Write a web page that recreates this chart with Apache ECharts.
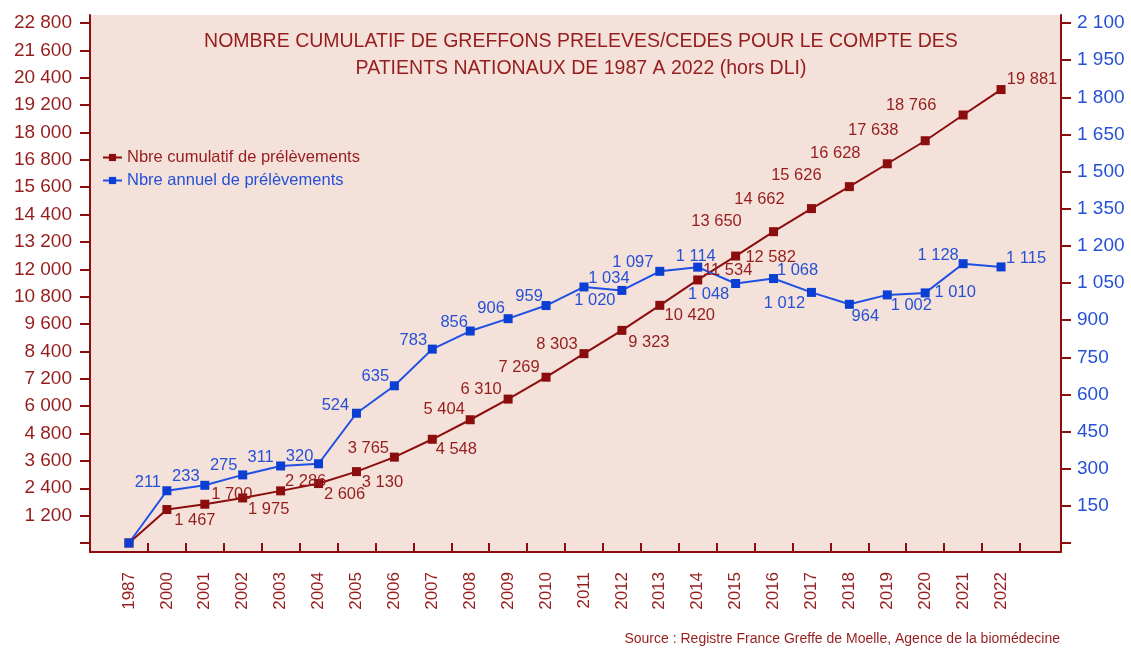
<!DOCTYPE html>
<html>
<head>
<meta charset="utf-8">
<script src="https://cdn.jsdelivr.net/npm/echarts@6/dist/echarts.min.js"></script>
<style>
  html, body { margin: 0; padding: 0; background: #fff; }
  #chart { width: 1131px; height: 648px; }
</style>
</head>
<body>
<div id="chart"></div>
<script>
const years = ['1987', '2000', '2001', '2002', '2003', '2004', '2005', '2006', '2007', '2008', '2009', '2010',
  '2011', '2012', '2013', '2014', '2015', '2016', '2017', '2018', '2019', '2020', '2021', '2022']
const cumulValues = [0, 1467, 1700, 1975, 2286, 2606, 3130, 3765, 4548, 5404, 6310, 7269,
  8303, 9323, 10420, 11534, 12582, 13650, 14662, 15626, 16628, 17638, 18766, 19881]
const annualValues = [0, 211, 233, 275, 311, 320, 524, 635, 783, 856, 906, 959,
  1034, 1020, 1097, 1114, 1048, 1068, 1012, 964, 1002, 1010, 1128, 1115]

// label placement (offset from the marker, label centre)
const cumulLabelOffsets = [[0, 0], [28, 11], [27, -10], [26, 11], [25, -9], [26, 11], [26, 11], [-26, -9],
  [24, 10], [-26, -10], [-27, -10], [-27, -10], [-27, -9], [27, 12], [30, 10], [30, -9], [35, 1],
  [-57, -10], [-52, -9], [-53, -11], [-52, -10], [-52, -10], [-52, -10], [31, -10]]
const annualLabelOffsets = [[0, 0], [-19, -8], [-19, -9], [-19, -9], [-20, -9], [-19, -7], [-21, -8], [-19, -9],
  [-19, -9], [-16, -9], [-17, -10], [-17, -9], [25, -9], [-27, 10], [-27, -9], [-2, -11], [-27, 11],
  [24, -8], [-27, 11], [16, 12], [24, 11], [30, 0], [-25, -8], [25, -8]]

const RED = '#8b0d0d'
const RED_TEXT = '#951d1d'
const BLUE = '#0b3fd4'
const BLUE_TEXT = '#2650d6'
const FONT = 'Liberation Sans, Arial, sans-serif'

const fmt = v => String(v).replace(/\B(?=(\d{3})+(?!\d))/g, ' ')

function buildData(values, offsets) {
  return values.map((v, i) => ({ value: v, label: { offset: offsets[i] } }))
}

const chart = echarts.init(document.getElementById('chart'))

const option = {
  backgroundColor: '#fff',
  textStyle: { fontFamily: FONT },
  title: {
    text: 'NOMBRE CUMULATIF DE GREFFONS PRELEVES/CEDES POUR LE COMPTE DES\nPATIENTS NATIONAUX DE 1987 A 2022 (hors DLI)',
    left: 576,
    top: 23,
    textAlign: 'center',
    textStyle: { color: RED_TEXT, fontSize: 19.5, fontWeight: 'normal', lineHeight: 27, fontFamily: FONT }
  },
  legend: {
    orient: 'vertical',
    left: 102,
    top: 149,
    itemWidth: 19,
    itemHeight: 9,
    itemGap: 6,
    padding: 0,
    data: [
      { name: 'Nbre cumulatif de prélèvements', textStyle: { color: RED_TEXT } },
      { name: 'Nbre annuel de prélèvements', textStyle: { color: BLUE_TEXT } }
    ],
    textStyle: { fontSize: 16.5, fontFamily: FONT }
  },
  graphic: [{
    type: 'text',
    right: 71,
    top: 632,
    style: { text: 'Source : Registre France Greffe de Moelle, Agence de la biomédecine', fill: RED_TEXT, fontSize: 14, fontFamily: FONT }
  }],
  grid: [
    { left: 90, right: 70, top: 15, bottom: 96, show: true, backgroundColor: '#f4e1d9', borderWidth: 0 },
    { left: 110, right: 111, top: 23, bottom: 105 }
  ],
  xAxis: [
    {
      gridIndex: 0, type: 'value', min: 0, max: 1,
      axisLine: { show: true, lineStyle: { color: RED, width: 2 } },
      axisTick: { show: false }, axisLabel: { show: false }, splitLine: { show: false }
    },
    {
      gridIndex: 1, type: 'category', data: years, boundaryGap: true, offset: 9,
      axisLine: { show: false },
      axisTick: { show: true, length: 10, interval: (i) => i > 0 && i < years.length, lineStyle: { color: RED, width: 2 } },
      axisLabel: { rotate: 90, margin: 20, color: RED_TEXT, fontSize: 17, fontFamily: FONT },
      splitLine: { show: false }
    }
  ],
  yAxis: [
    {
      gridIndex: 0, type: 'value', position: 'left', min: 0, max: 1,
      axisLine: { show: true, lineStyle: { color: RED, width: 2 } },
      axisTick: { show: false }, axisLabel: { show: false }, splitLine: { show: false }
    },
    {
      gridIndex: 0, type: 'value', position: 'right', min: 0, max: 1,
      axisLine: { show: true, lineStyle: { color: RED, width: 2 } },
      axisTick: { show: false }, axisLabel: { show: false }, splitLine: { show: false }
    },
    {
      gridIndex: 1, type: 'value', position: 'left', offset: 20, min: 0, max: 22800, interval: 1200,
      axisLine: { show: false },
      axisTick: { show: true, length: 10, lineStyle: { color: RED, width: 2 } },
      axisLabel: { margin: 18, color: RED_TEXT, fontSize: 19, fontFamily: FONT, formatter: v => v === 0 ? '' : fmt(v) },
      splitLine: { show: false }
    },
    {
      gridIndex: 1, type: 'value', position: 'right', offset: 41, min: 0, max: 2100, interval: 150,
      axisLine: { show: false },
      axisTick: { show: true, length: 10, lineStyle: { color: RED, width: 2 } },
      axisLabel: { margin: 16, color: BLUE_TEXT, fontSize: 19, fontFamily: FONT, formatter: v => v === 0 ? '' : fmt(v) },
      splitLine: { show: false }
    }
  ],
  series: [
    {
      name: 'Nbre cumulatif de prélèvements',
      type: 'line',
      xAxisIndex: 1,
      yAxisIndex: 2,
      data: buildData(cumulValues, cumulLabelOffsets),
      symbol: 'rect',
      symbolSize: 9,
      lineStyle: { color: RED, width: 2 },
      itemStyle: { color: RED },
      label: {
        show: true, position: 'inside', align: 'center', verticalAlign: 'middle',
        color: RED_TEXT, fontSize: 16.5, fontFamily: FONT,
        formatter: p => p.value === 0 ? '' : fmt(p.value)
      },
      animation: false
    },
    {
      name: 'Nbre annuel de prélèvements',
      type: 'line',
      xAxisIndex: 1,
      yAxisIndex: 3,
      data: buildData(annualValues, annualLabelOffsets),
      symbol: 'rect',
      symbolSize: 9,
      lineStyle: { color: '#1e50e6', width: 2 },
      itemStyle: { color: BLUE },
      label: {
        show: true, position: 'inside', align: 'center', verticalAlign: 'middle',
        color: BLUE_TEXT, fontSize: 16.5, fontFamily: FONT,
        formatter: p => p.value === 0 ? '' : fmt(p.value)
      },
      animation: false
    }
  ]
}

chart.setOption(option)
window.addEventListener('resize', () => chart.resize())
</script>
</body>
</html>
